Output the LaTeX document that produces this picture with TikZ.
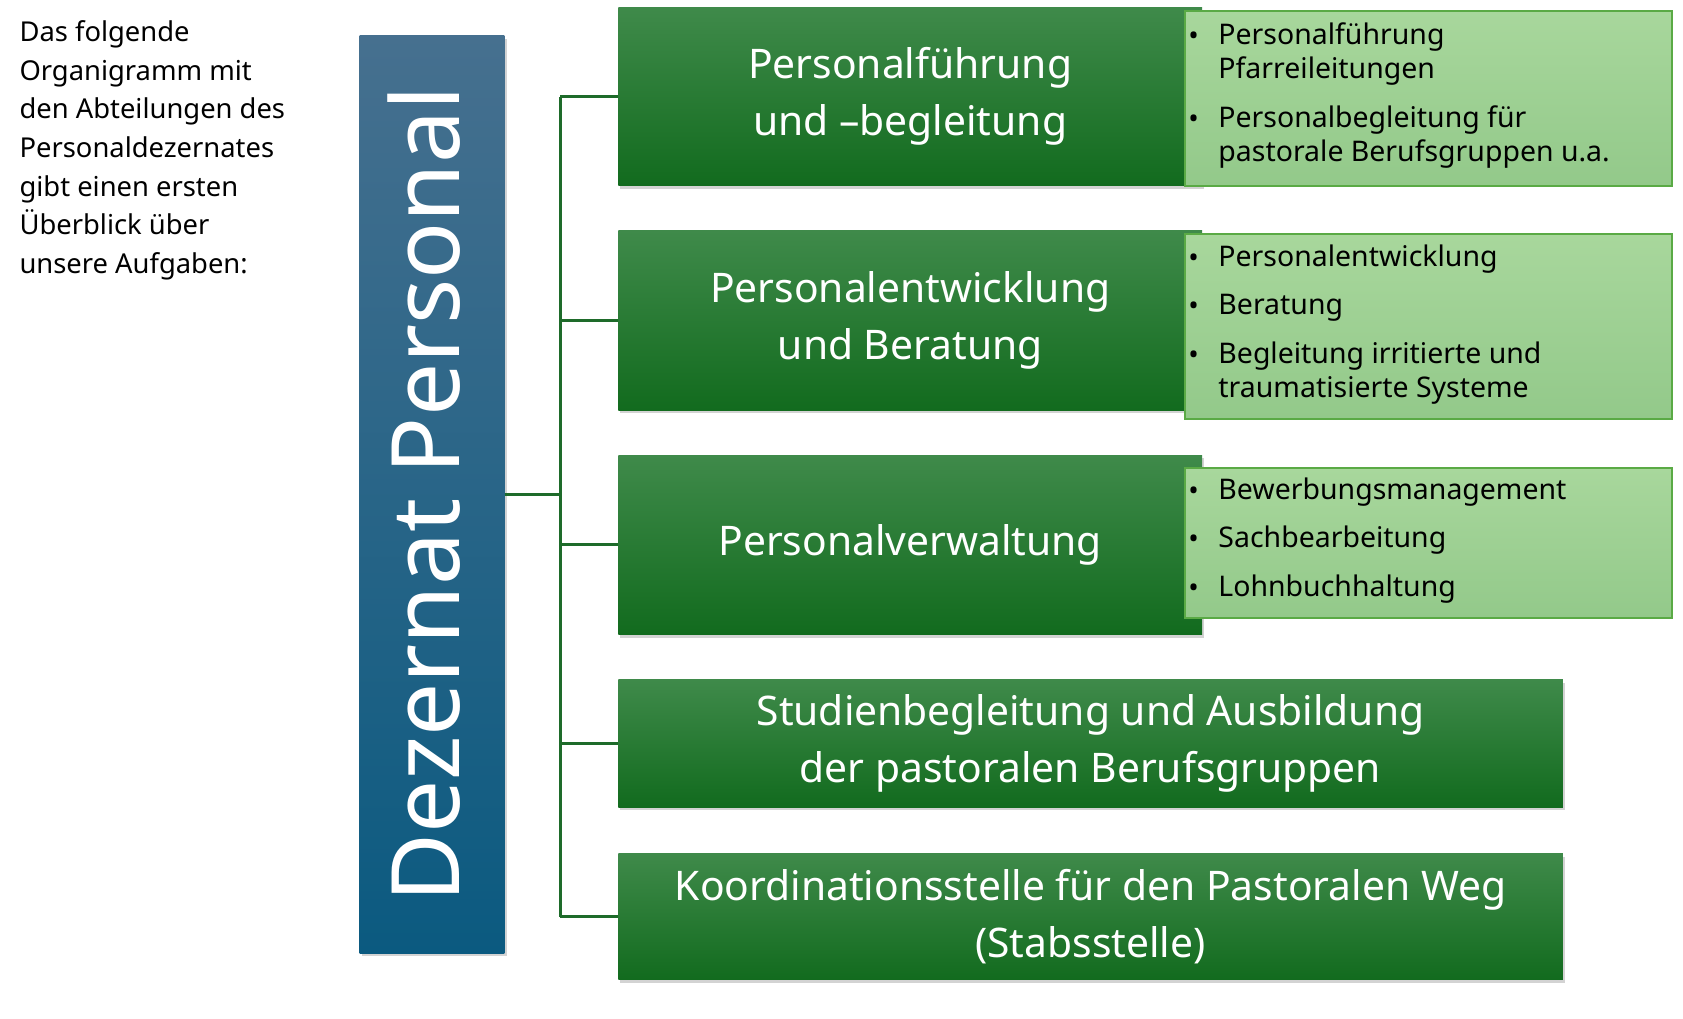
\documentclass[tikz,border=0pt]{standalone}
\usepackage{fontspec}
\setmainfont{Noto Sans}
\usetikzlibrary{shadows}
\definecolor{bluetop}{HTML}{46708F}
\definecolor{bluebot}{HTML}{0B5A80}
\definecolor{gtop}{HTML}{3F8A4A}
\definecolor{gbot}{HTML}{126B1E}
\definecolor{ltop}{HTML}{A8D79C}
\definecolor{lbot}{HTML}{93C98A}
\definecolor{lborder}{HTML}{5AAA45}
\definecolor{conn}{HTML}{1E6B2A}
\tikzset{
  dept/.style={draw=none, top color=gtop, bottom color=gbot, text=white, align=center,
    font=\fontsize{38}{53}\selectfont, drop shadow={opacity=0.35,shadow xshift=2pt,shadow yshift=-3pt}},
  detail/.style={draw=lborder, line width=2pt, top color=ltop, bottom color=lbot},
  bul/.style={anchor=north west, align=left, font=\fontsize{26.5}{32}\selectfont, text=black, inner sep=0pt},
  conline/.style={draw=conn, line width=2.5pt}
}
\begin{document}
\begin{tikzpicture}[x=1pt,y=-1pt]
\useasboundingbox (0,0) rectangle (1568,948.5);
\node[anchor=north west, align=left, inner sep=0pt, font=\fontsize{25.5}{36}\selectfont] (intro) at (18,19)
 {Das folgende\\Organigramm mit\\den Abteilungen des\\Personaldezernates\\gibt einen ersten\\Überblick über\\unsere Aufgaben:};
\node[minimum width=135pt, minimum height=855pt, inner sep=0pt, top color=bluetop, bottom color=bluebot,
  drop shadow={opacity=0.35,shadow xshift=2pt,shadow yshift=-3pt}] (dez) at (402.5,460.5) {};
\node[rotate=90, text=white, font=\fontsize{88}{88}\selectfont] (dezt) at (395,460.5) {Dezernat Personal};
\node[dept, minimum width=544pt, minimum height=166pt, inner sep=0pt] (a1) at (848,90) {Personalführung\\und –begleitung};
\node[dept, minimum width=544pt, minimum height=167pt, inner sep=0pt] (a2) at (848,298.5) {Personalentwicklung\\und Beratung};
\node[dept, minimum width=544pt, minimum height=167pt, inner sep=0pt] (a3) at (848,507.5) {Personalverwaltung};
\node[dept, minimum width=880pt, minimum height=119pt, inner sep=0pt] (a4) at (1016,692.5) {Studienbegleitung und Ausbildung\\der pastoralen Berufsgruppen};
\node[dept, minimum width=880pt, minimum height=118pt, inner sep=0pt] (a5) at (1016,854) {Koordinationsstelle für den Pastoralen Weg\\(Stabsstelle)};
\node[detail, minimum width=454pt, minimum height=163pt, inner sep=0pt] (e1) at (1331,91.5) {};
\node[detail, minimum width=454pt, minimum height=172pt, inner sep=0pt] (e2) at (1331,304) {};
\node[detail, minimum width=454pt, minimum height=140pt, inner sep=0pt] (e3) at (1331,506) {};
\node[bul] (t1) at (1135,21) {Personalführung\\Pfarreileitungen\\[13pt]Personalbegleitung für\\pastorale Berufsgruppen u.a.};
\node[bul] (t2) at (1135,228) {Personalentwicklung\\[13pt]Beratung\\[13pt]Begleitung irritierte und\\traumatisierte Systeme};
\node[bul] (t3) at (1135,445) {Bewerbungsmanagement\\[13pt]Sachbearbeitung\\[13pt]Lohnbuchhaltung};
\foreach \y [count=\i] in {36,113,243,288,333,460,505,550}{\node[font=\fontsize{26}{26}\selectfont, inner sep=0pt] (dot\i) at (1112,\y) {•};}
\coordinate (j) at (522,460.5);
\draw[conline] (dez.east |- j) -- (j);
\draw[conline] (522,90) -- (522,854);
\foreach \n in {a1,a2,a3,a4,a5}{\draw[conline] (522,0 |- \n.west) -- (\n.west);}
\end{tikzpicture}
\end{document}
